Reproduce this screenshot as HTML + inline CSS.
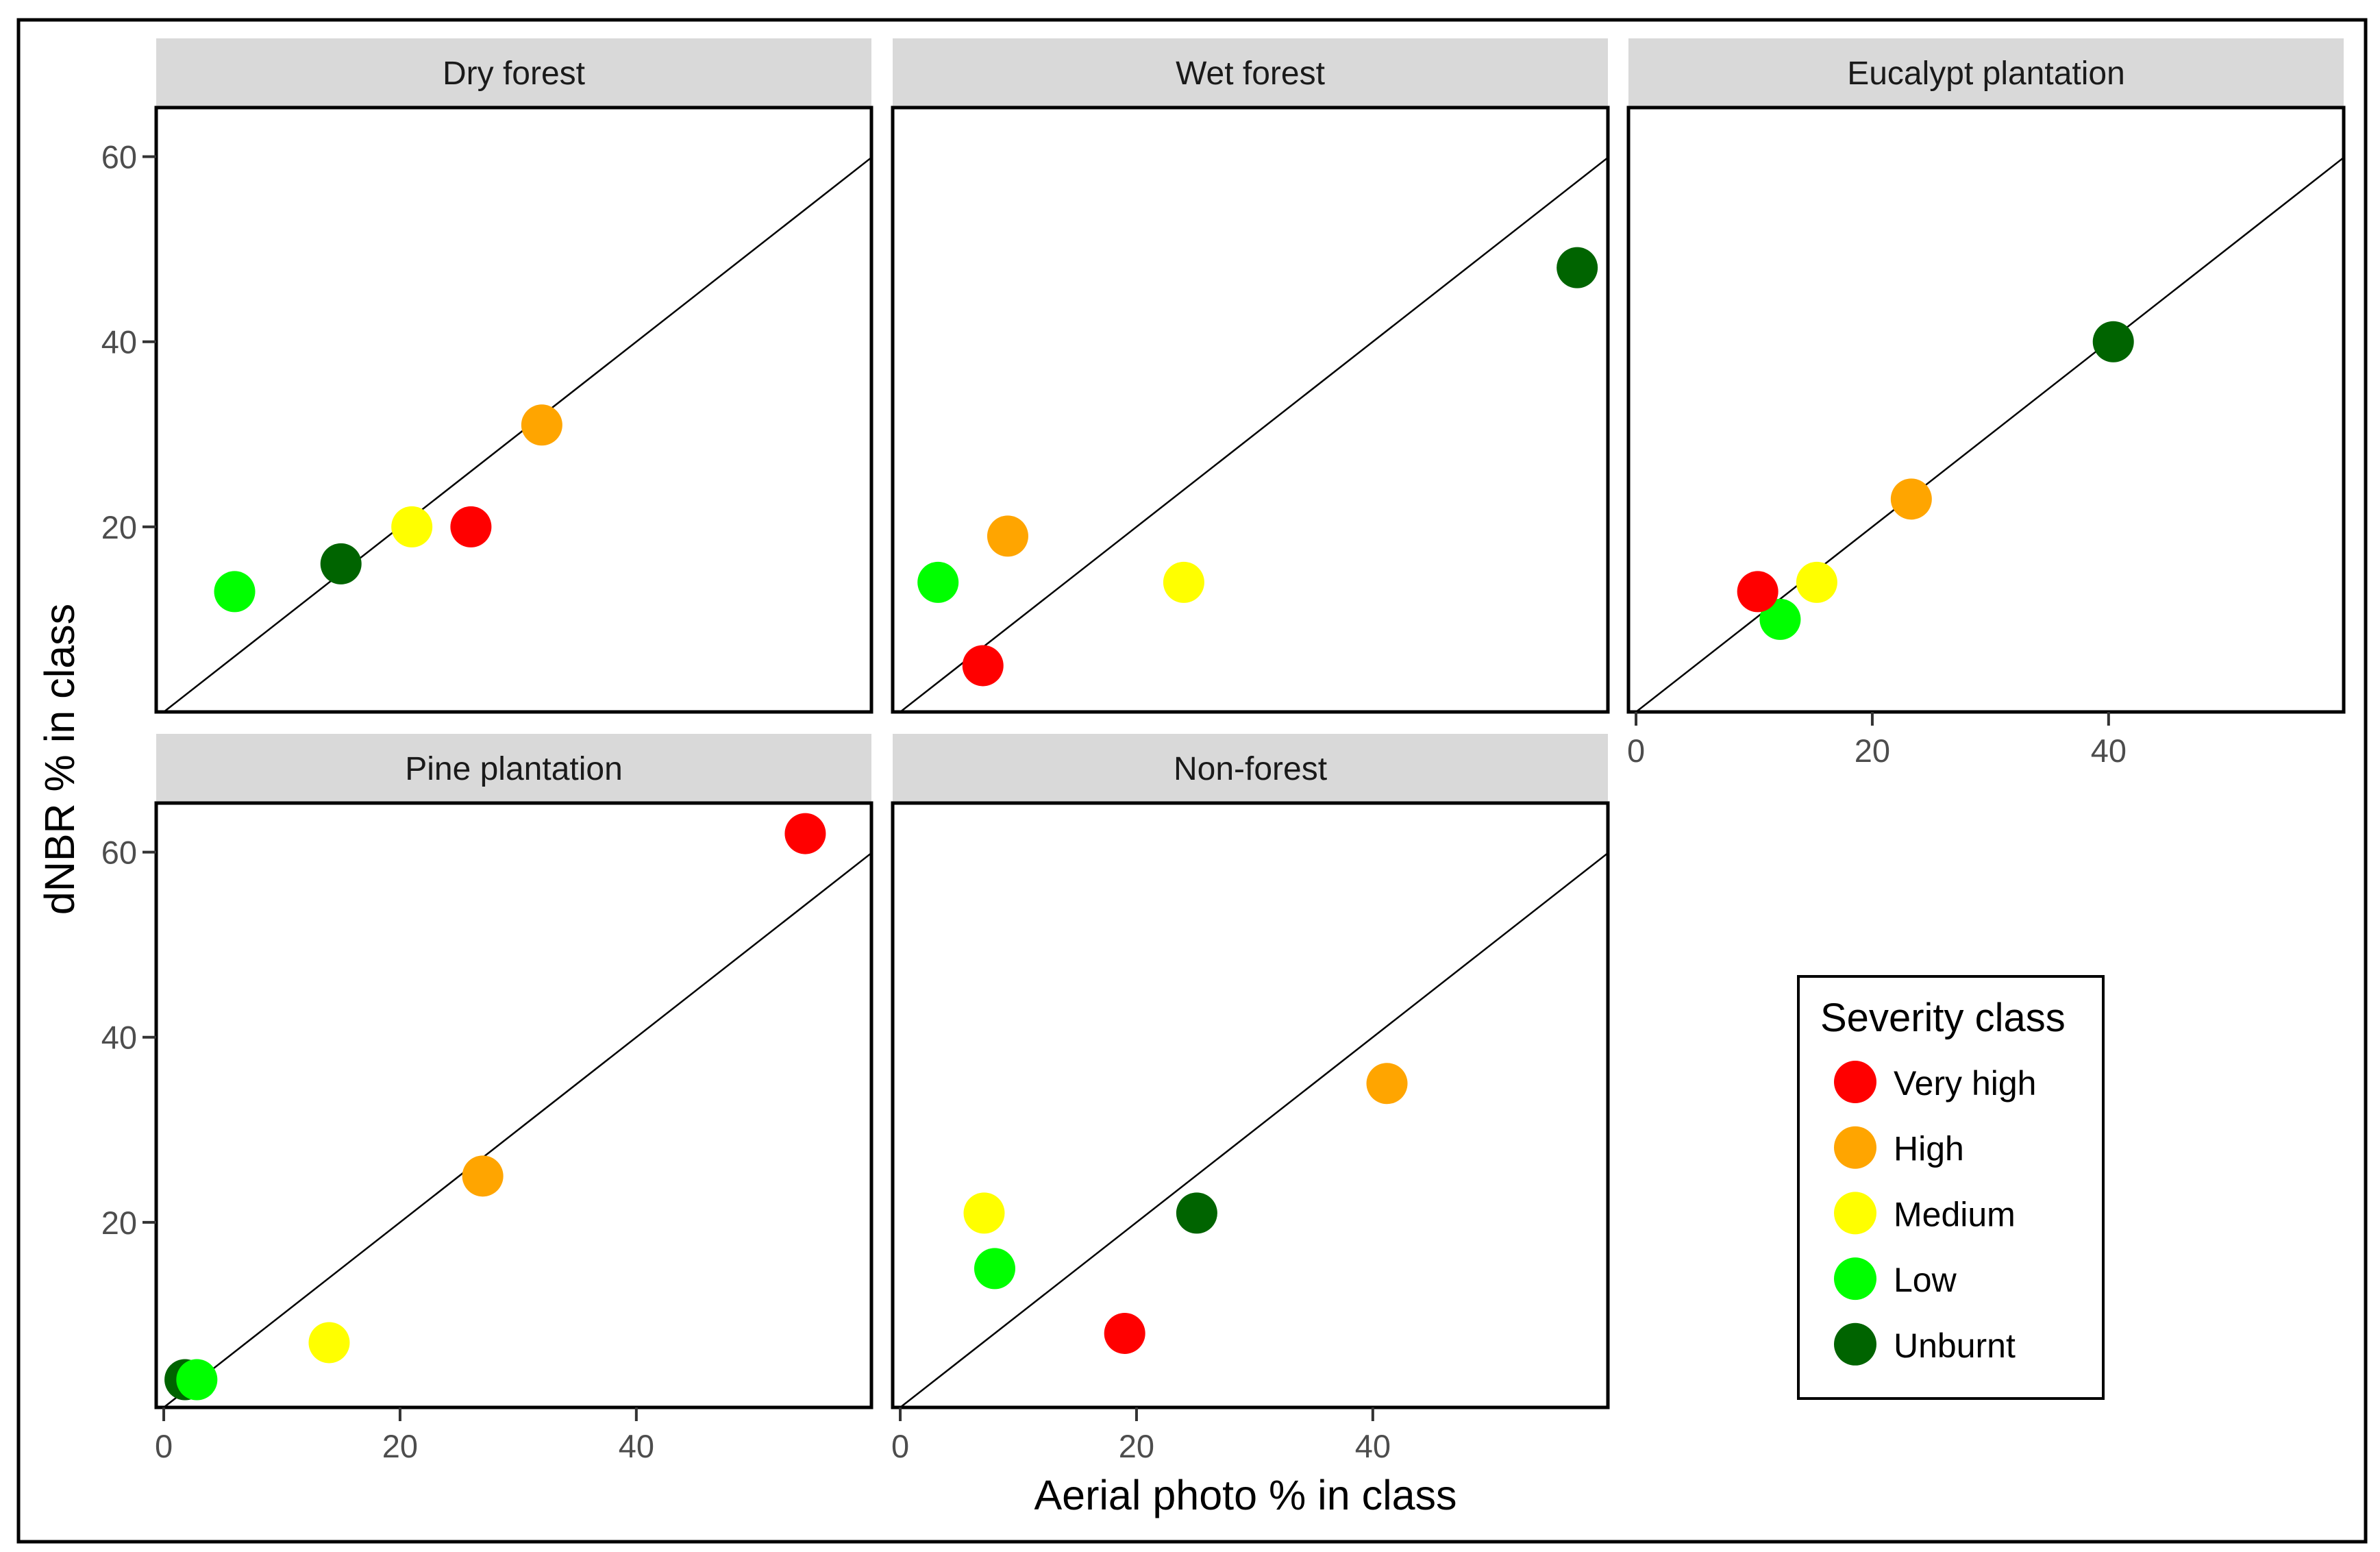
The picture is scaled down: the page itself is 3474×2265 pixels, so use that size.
<!DOCTYPE html>
<html><head><meta charset="utf-8"><style>
html,body{margin:0;padding:0;background:#fff;}
svg{display:block;font-family:"Liberation Sans",sans-serif;}
</style></head><body>
<svg id="chart" width="3474" height="2265" viewBox="0 0 3474 2265" xmlns="http://www.w3.org/2000/svg">
<rect x="0" y="0" width="3474" height="2265" fill="#fff"/>
<rect x="27" y="29" width="3426" height="2221" fill="none" stroke="#000" stroke-width="5"/>
<text transform="translate(108,1108) rotate(-90)" text-anchor="middle" font-size="61" fill="#000">dNBR % in class</text>
<text x="1818" y="2203" text-anchor="middle" font-size="61" fill="#000">Aerial photo % in class</text>
<g id="panels"></g>
<g>
<rect x="2625" y="1425" width="445" height="616" fill="#fff" stroke="#000" stroke-width="4"/>
<text x="2657" y="1505" font-size="58" fill="#000">Severity class</text>
<g id="legend-items"></g>
</g>
</svg>
<script>
const NS="http://www.w3.org/2000/svg";
const classes=["Very high","High","Medium","Low","Unburnt"];
const colors=["#ff0000","#ffa500","#ffff00","#00ff00","#006400"];
const panelNames=["Dry forest","Wet forest","Eucalypt plantation","Pine plantation","Non-forest"];
// per panel: aerial (x) and dNBR (y) in class order: Very high, High, Medium, Low, Unburnt
const dryX=[26,32,21,6,15];      const dryY=[20,31,20,13,16];
const wetX=[7,9.1,24,3.2,57.3];  const wetY=[5,19,14,14,48];
const eucX=[10.3,23.3,15.3,12.2,40.4]; const eucY=[13,23,14,10,40];
const pineX=[54.3,27,14,2.8,1.8]; const pineY=[62,25,7,3,3];
const nonX=[19,41.2,7.1,8,25.1];  const nonY=[8,35,21,15,21];
const xTicks=[0,20,40];
const yTicks=[20,40,60];
const drawOrder=[4,3,2,0,1];
const seriesX=[dryX,wetX,eucX,pineX,nonX];
const seriesY=[dryY,wetY,eucY,pineY,nonY];

const panelW=1044, panelH=882;
const colL=[228,1303,2377], rowT=[157,1172];
const xmin=-0.64, xmax=59.9, ymin=0, ymax=65.3;
function sx(v,L){return L+(v-xmin)/(xmax-xmin)*panelW;}
function sy(v,T){return T+panelH-(v-ymin)/(ymax-ymin)*panelH;}
function mk(tag,attrs,parent){const e=document.createElementNS(NS,tag);for(const k in attrs)e.setAttribute(k,attrs[k]);parent.appendChild(e);return e;}

const root=document.getElementById("panels");
panelNames.forEach((name,i)=>{
  const c=i<3?i:i-3, r=i<3?0:1;
  const L=colL[c], T=rowT[r];
  const g=mk("g",{},root);
  
  
  const strip=mk("rect",{x:L,y:T-101,width:panelW,height:99,fill:"#d9d9d9"},g);
  
  
  const st=mk("text",{x:L+panelW/2,y:T-34,"text-anchor":"middle","font-size":"48",fill:"#1a1a1a"},g);
  st.textContent=name;
  
  
  const clipId="clip"+i;
  const cp=mk("clipPath",{id:clipId},g);
  mk("rect",{x:L,y:T,width:panelW,height:panelH},cp);
  const ln=mk("line",{x1:sx(0,L),y1:sy(0,T),x2:sx(70,L),y2:sy(70,T),stroke:"#000","stroke-width":"2.5","clip-path":"url(#"+clipId+")"},g);
  
  
  drawOrder.forEach(k=>{
    const p=mk("circle",{cx:sx(seriesX[i][k],L),cy:sy(seriesY[i][k],T),r:30,fill:colors[k]},g);
    
    
  });
  const fr=mk("rect",{x:L,y:T,width:panelW,height:panelH,fill:"none",stroke:"#000","stroke-width":"5"},g);
  
  
  if(c===0){
    yTicks.forEach(t=>{
      const y=sy(t,T);
      mk("line",{x1:L-20,y1:y,x2:L,y2:y,stroke:"#333","stroke-width":"4"},g);
      const tl=mk("text",{x:L-28,y:y+17,"text-anchor":"end","font-size":"47",fill:"#4d4d4d"},g);
      tl.textContent=t;
      
      
    });
  }
  if(r===1||i===2){
    xTicks.forEach(t=>{
      const x=sx(t,L);
      mk("line",{x1:x,y1:T+panelH,x2:x,y2:T+panelH+20,stroke:"#333","stroke-width":"4"},g);
      const tl=mk("text",{x:x,y:T+panelH+73,"text-anchor":"middle","font-size":"47",fill:"#4d4d4d"},g);
      tl.textContent=t;
      
      
    });
  }
});

const li=document.getElementById("legend-items");
classes.forEach((cl,k)=>{
  const y=1579+k*95.7;
  const g=mk("g",{},li);
  
  
  mk("circle",{cx:2708,cy:y,r:31,fill:colors[k]},g);
  const t=mk("text",{x:2764,y:y+19,"font-size":"50",fill:"#000"},g);
  t.textContent=cl;
});
</script>
</body></html>
